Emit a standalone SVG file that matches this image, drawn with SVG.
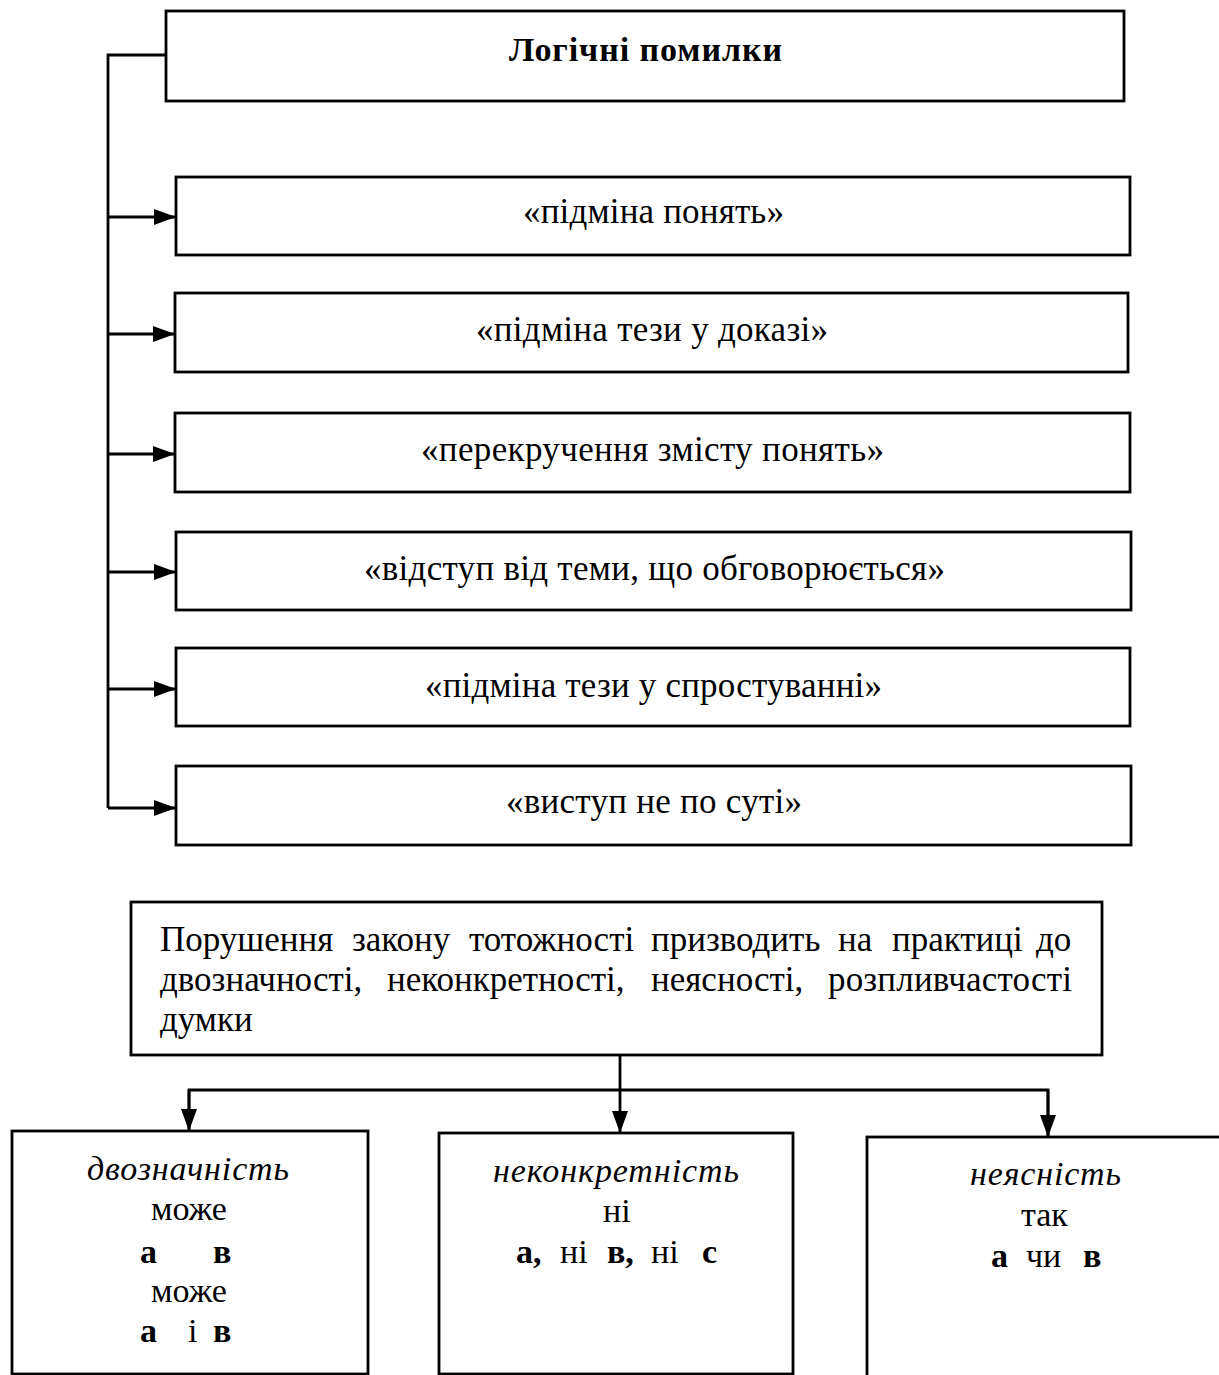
<svg xmlns="http://www.w3.org/2000/svg" width="1219" height="1375" viewBox="0 0 1219 1375">
<style>
.box{fill:#fff;stroke:#000;stroke-width:2.8}
.ln{fill:none;stroke:#000;stroke-width:2.8}
text{font-family:"Liberation Serif","Times New Roman",serif;fill:#000}
.t{font-size:35px}
.b{font-size:34px;font-weight:bold}
.p{font-size:35px}
.i{font-size:34px;font-style:italic}
.r{font-size:34px}
.rb{font-size:34px;font-weight:bold}
.m{text-anchor:middle}
</style>
<defs>
<marker id="ah" markerUnits="userSpaceOnUse" markerWidth="24" markerHeight="17" refX="22" refY="8" orient="auto">
<path d="M0,0 L22,8 L0,16 Z" fill="#000"/>
</marker>
</defs>
<rect width="1219" height="1375" fill="#fff"/>
<g id="connectors">
<polyline class="ln" points="166,55 108,55 108,808"/>
<line class="ln" x1="108" y1="217" x2="176" y2="217" marker-end="url(#ah)"/>
<line class="ln" x1="108" y1="334" x2="175" y2="334" marker-end="url(#ah)"/>
<line class="ln" x1="108" y1="454" x2="175" y2="454" marker-end="url(#ah)"/>
<line class="ln" x1="108" y1="572" x2="176" y2="572" marker-end="url(#ah)"/>
<line class="ln" x1="108" y1="689" x2="176" y2="689" marker-end="url(#ah)"/>
<line class="ln" x1="108" y1="808" x2="176" y2="808" marker-end="url(#ah)"/>
<line class="ln" x1="620" y1="1055" x2="620" y2="1133" marker-end="url(#ah)"/>
<polyline class="ln" points="189,1131 189,1090 1048,1090 1048,1137"/>
<line class="ln" x1="189" y1="1090" x2="189" y2="1131" marker-end="url(#ah)"/>
<line class="ln" x1="1048" y1="1090" x2="1048" y2="1137" marker-end="url(#ah)"/>
</g>
<g id="root">
<rect class="box" x="166" y="11" width="958" height="90"/>
<text class="b" x="509" y="61" textLength="273">Логічні помилки</text>
</g>
<g id="n1">
<rect class="box" x="176" y="177" width="954" height="78"/>
<text class="t" x="523" y="223" textLength="261">«підміна понять»</text>
</g>
<g id="n2">
<rect class="box" x="175" y="293" width="953" height="79"/>
<text class="t" x="476" y="341" textLength="352">«підміна тези у доказі»</text>
</g>
<g id="n3">
<rect class="box" x="175" y="413" width="955" height="79"/>
<text class="t" x="421" y="461" textLength="463">«перекручення змісту понять»</text>
</g>
<g id="n4">
<rect class="box" x="176" y="532" width="955" height="78"/>
<text class="t" x="364" y="580" textLength="581">«відступ від теми, що обговорюється»</text>
</g>
<g id="n5">
<rect class="box" x="176" y="648" width="954" height="78"/>
<text class="t" x="425" y="697" textLength="457">«підміна тези у спростуванні»</text>
</g>
<g id="n6">
<rect class="box" x="176" y="766" width="955" height="79"/>
<text class="t" x="506" y="813" textLength="296">«виступ не по суті»</text>
</g>
<g id="para">
<rect class="box" x="131" y="902" width="971" height="153"/>
<text class="p" y="951">
<tspan x="160">Порушення</tspan><tspan x="352">закону</tspan><tspan x="469">тотожності</tspan><tspan x="651">призводить</tspan><tspan x="838">на</tspan><tspan x="892">практиці</tspan><tspan x="1036">до</tspan>
</text>
<text class="p" y="991">
<tspan x="160">двозначності,</tspan><tspan x="387">неконкретності,</tspan><tspan x="651">неясності,</tspan><tspan x="828" textLength="244">розпливчастості</tspan>
</text>
<text class="p" x="160" y="1031">думки</text>
</g>
<g id="b1">
<rect class="box" x="12" y="1131" width="356" height="243"/>
<text class="i" x="87" y="1180" textLength="202">двозначність</text>
<text class="r m" x="189" y="1220">може</text>
<text class="rb" x="140" y="1263">а</text>
<text class="rb" x="213" y="1263">в</text>
<text class="r m" x="189" y="1302">може</text>
<text class="rb" x="140" y="1342">а</text>
<text class="r" x="188" y="1342">і</text>
<text class="rb" x="213" y="1342">в</text>
</g>
<g id="b2">
<rect class="box" x="439" y="1133" width="354" height="241"/>
<text class="i" x="493" y="1182" textLength="246">неконкретність</text>
<text class="r" x="603" y="1222">ні</text>
<text class="rb" x="516" y="1263">а,</text>
<text class="r" x="560" y="1263">ні</text>
<text class="rb" x="607" y="1263">в,</text>
<text class="r" x="651" y="1263">ні</text>
<text class="rb" x="702" y="1263">с</text>
</g>
<g id="b3">
<rect class="box" x="867" y="1137" width="360" height="245"/>
<text class="i" x="970" y="1185" textLength="151">неясність</text>
<text class="r" x="1021" y="1226">так</text>
<text class="rb" x="991" y="1267">а</text>
<text class="r" x="1026" y="1267">чи</text>
<text class="rb" x="1083" y="1267">в</text>
</g>
</svg>
